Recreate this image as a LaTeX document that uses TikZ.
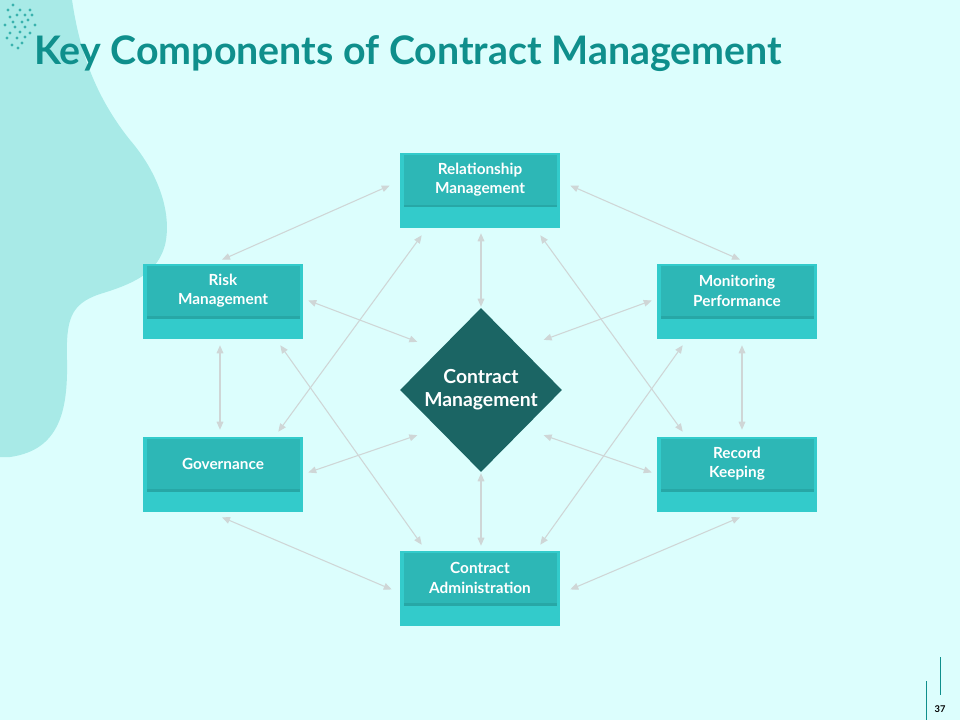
\documentclass[tikz,border=0pt]{standalone}
\usepackage{fontspec}
\setmainfont{Lato}
\usetikzlibrary{shapes.geometric,arrows.meta,calc}
\definecolor{bgc}{HTML}{DCFEFD}
\definecolor{blobc}{HTML}{A8EAE7}
\definecolor{titlec}{HTML}{0F8F8C}
\definecolor{boxc}{HTML}{33CBCB}
\definecolor{innerc}{HTML}{2DB7B6}
\definecolor{shadc}{HTML}{249E9D}
\definecolor{diac}{HTML}{1B6564}
\definecolor{arrc}{HTML}{CFD6D6}
\definecolor{dotc}{HTML}{3AB2AE}
\tikzset{
  outerbox/.style={rectangle, fill=boxc, minimum width=120pt, minimum height=56.25pt, inner sep=0pt},
  shadowbox/.style={rectangle, fill=shadc, minimum width=114.75pt, minimum height=37.5pt, inner sep=0pt, opacity=0.8},
  innerbox/.style={rectangle, fill=innerc, minimum width=114.75pt, minimum height=37.5pt, inner sep=0pt,
    text=white, align=center, font=\bfseries\fontsize{11.5}{14.5}\selectfont},
  conn/.style={draw=arrc, line width=0.8pt, {Triangle[length=6pt,width=5pt]}-{Triangle[length=6pt,width=5pt]}},
  pagel/.style={draw=titlec, line width=0.6pt}
}
\newcommand\mybox[4]{%
  \node[outerbox] (#1) at (#2,#3) {};
  \node[shadowbox] (#1-s) at ($(#1)+(0,-8)$) {};
  \node[innerbox] (#1-t) at ($(#1)+(0,-10.5)$) {#4};
}
\begin{document}
\begin{tikzpicture}[x=0.75pt,y=-0.75pt]
\useasboundingbox (0,0) rectangle (960,720);
\fill[bgc] (0,0) rectangle (960,720);
% blob
\fill[blobc] (0,0) -- (72,0) .. controls (78,40) and (90,90) .. (130,140)
  .. controls (160,175) and (172,215) .. (165,245)
  .. controls (158,270) and (140,282) .. (100,294)
  .. controls (70,304) and (66,320) .. (67,360)
  .. controls (68,410) and (60,450) .. (10,457) -- (0,457) -- cycle;
% dots
\foreach \p in {(13,5),(8,10),(20,10),(30,10),(10,17),(17,15),(25,15),(32,15),(13,22),(22,22),(28,20),(5,25),(15,27),(25,27),(35,25),(10,33),(20,32),(30,33),(7,38),(17,38),(25,37),(12,45),(22,43),(18,48)}
  \fill[dotc] \p circle (1.7);
% title
\node[anchor=base west, text=titlec, font=\bfseries\fontsize{29.5}{32}\selectfont, inner sep=0pt] (title) at (34,65) {Key Components of Contract Management};
% boxes
\mybox{rel}{480}{190.5}{Relationship\\Management}
\mybox{risk}{223}{301.5}{Risk\\Management}
\mybox{mon}{737}{301.5}{Monitoring\\Performance}
\mybox{gov}{223}{474.5}{Governance}
\mybox{rec}{737}{474.5}{Record\\Keeping}
\mybox{adm}{480}{588.5}{Contract\\Administration}
% diamond
\node[diamond, fill=diac, minimum width=121.5pt, minimum height=123pt, inner sep=0pt, text=white,
  align=center, font=\bfseries\fontsize{14.5}{17}\selectfont] (cm) at (481,390) {Contract\\Management};
% connectors
\draw[conn] ($(rel.west)+(-10,-5)$) -- ($(risk.north)+(-1,-4)$);
\draw[conn] ($(rel.east)+(10,-5)$) -- ($(mon.north)+(3,-4)$);
\draw[conn] ($(risk.south)+(-3,6)$) -- ($(gov.north)+(-3,-7)$);
\draw[conn] ($(mon.south)+(5,6)$) -- ($(rec.north)+(5,-7)$);
\draw[conn] ($(gov.south)+(-1,5)$) -- ($(adm.west)+(-8,1)$);
\draw[conn] ($(rec.south)+(3,5)$) -- ($(adm.east)+(10,1)$);
\draw[conn] ($(rel.south)+(1,5)$) -- ($(cm.north)+(0,-1)$);
\draw[conn] ($(cm.south)+(0,1)$) -- ($(adm.north)+(1,-5)$);
\draw[conn] ($(risk.east)+(5,-1)$) -- ($(cm.north west)+(-23,-7)$);
\draw[conn] ($(mon.west)+(-5,-1)$) -- ($(cm.north east)+(22,-9)$);
\draw[conn] ($(gov.east)+(5,-2)$) -- ($(cm.south west)+(-23,4)$);
\draw[conn] ($(rec.west)+(-5,-2)$) -- ($(cm.south east)+(22,4)$);
\draw[conn] ($(rel.south west)+(22,7)$) -- ($(gov.north east)+(-25,-5)$);
\draw[conn] ($(rel.south east)+(-20,7)$) -- ($(rec.north west)+(26,-5)$);
\draw[conn] ($(risk.south east)+(-23,6)$) -- ($(adm.north west)+(22,-6)$);
\draw[conn] ($(mon.south west)+(26,6)$) -- ($(adm.north east)+(-20,-6)$);
% page number
\draw[pagel] (940,657) -- (940,695);
\draw[pagel] (926,681) -- (926,720);
\node[font=\bfseries\fontsize{7}{8}\selectfont, inner sep=0pt] (pg) at (940,709) {37};
\end{tikzpicture}
\end{document}
